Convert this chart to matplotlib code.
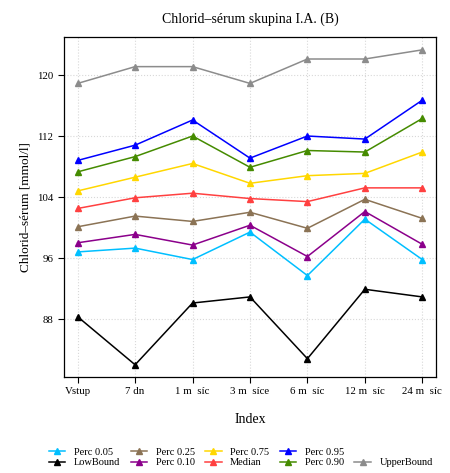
import numpy as np
import matplotlib
matplotlib.use('Agg')
import matplotlib.pyplot as plt
from matplotlib.lines import Line2D

plt.rcParams['font.family'] = ['Liberation Serif', 'DejaVu Serif']

categories = ['Vstup', '7 dn', '1 m  síc', '3 m  síce', '6 m  síc', '12 m  síc', '24 m  síc']

perc05 = [96.8, 97.3, 95.8, 99.4, 93.7, 101.1, 95.8]
low_bound = [88.3, 82.0, 90.1, 90.9, 82.8, 91.9, 90.9]
perc25 = [100.1, 101.5, 100.8, 102.0, 99.9, 103.7, 101.2]
perc10 = [98.0, 99.1, 97.7, 100.3, 96.2, 102.1, 97.8]
perc75 = [104.8, 106.6, 108.4, 105.8, 106.8, 107.1, 109.9]
median = [102.5, 103.9, 104.5, 103.8, 103.4, 105.2, 105.2]
perc95 = [108.8, 110.8, 114.1, 109.1, 112.0, 111.6, 116.7]
perc90 = [107.3, 109.3, 112.0, 107.9, 110.1, 109.9, 114.3]
upper_bound = [118.9, 121.1, 121.1, 118.9, 122.1, 122.1, 123.3]

series = [
    ('Perc 0.05', perc05, '#00BFFF'),
    ('LowBound', low_bound, '#000000'),
    ('Perc 0.25', perc25, '#8B7355'),
    ('Perc 0.10', perc10, '#8B008B'),
    ('Perc 0.75', perc75, '#FFD700'),
    ('Median', median, '#FF4040'),
    ('Perc 0.95', perc95, '#0000FF'),
    ('Perc 0.90', perc90, '#458B00'),
    (None, None, None),
    ('UpperBound', upper_bound, '#8C8C8C'),
]

fig = plt.figure(figsize=(4.5, 4.73), dpi=100)
ax = fig.add_axes((0.142, 0.203, 0.827, 0.719))

x = np.arange(len(categories))
handles = []
labels = []
for label, vals, colour in series:
    if label is None:
        # empty slot so UpperBound lands in the second row
        handles.append(Line2D([], [], color='none'))
        labels.append('')
        continue
    h, = ax.plot(x, vals, color=colour, lw=1.1, marker='^', ms=3.8,
                 mec=colour, mfc=colour, label=label)
    handles.append(h)
    labels.append(label)

ax.set_xlim(-0.24, 6.24)
ax.set_ylim(80.4, 125.0)
ax.set_yticks([88, 96, 104, 112, 120])
ax.set_xticks(x)
ax.set_xticklabels(categories)
ax.grid(True, ls=':', color='#d8d8d8', lw=0.8)
ax.set_axisbelow(True)
ax.tick_params(labelsize=7.8, length=4, width=0.8)
for s in ax.spines.values():
    s.set_linewidth(0.9)

ax.set_title('Chlorid–sérum skupina I.A. (B)', fontsize=10, pad=10)
ax.set_ylabel('Chlorid–sérum [mmol/l]', fontsize=9.5)
ax.set_xlabel('Index', fontsize=10, labelpad=12)

fig.legend(handles, labels, loc='lower center', bbox_to_anchor=(0.535, -0.008),
           ncol=5, fontsize=7.5, frameon=False, labelspacing=0.15,
           columnspacing=1.0, handlelength=1.6, handletextpad=0.8)

fig.savefig('out.png', dpi=100)
